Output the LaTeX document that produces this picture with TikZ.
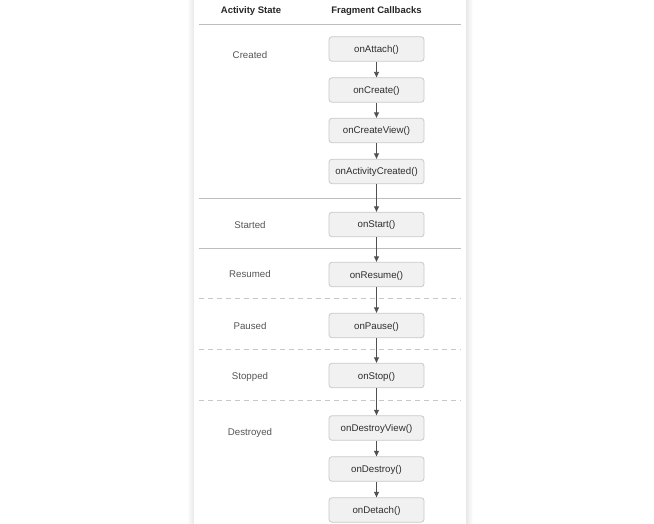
\documentclass[tikz,border=0pt]{standalone}
\usepackage{fontspec}
\setmainfont{Liberation Sans}
\usetikzlibrary{arrows.meta}
\definecolor{boxfill}{HTML}{F1F1F1}
\definecolor{boxline}{HTML}{C9C9C9}
\definecolor{ruleline}{HTML}{BDBDBD}
\definecolor{dashline}{HTML}{C8C8C8}
\definecolor{statetext}{HTML}{555555}
\definecolor{cbtext}{HTML}{2E2E2E}
\definecolor{arrowcol}{HTML}{505050}
\tikzset{
  cb/.style={draw=boxline, line width=0.8pt, fill=boxfill, rounded corners=3pt,
    minimum width=95pt, minimum height=24.5pt, inner sep=0pt,
    text height=7pt, text depth=0pt,
    font=\fontsize{9.7}{11}\selectfont, text=cbtext},
  statelabel/.style={font=\fontsize{9.7}{11}\selectfont, text=statetext, inner sep=0pt},
  headlabel/.style={font=\fontsize{9.5}{11}\selectfont\bfseries, text=black!85, inner sep=0pt},
  flow/.style={draw=arrowcol, line width=0.9pt, -{Triangle[length=5.5pt,width=5pt]}},
  solidrule/.style={draw=ruleline, line width=0.9pt},
  dashrule/.style={draw=dashline, line width=0.9pt, dash pattern=on 5pt off 4pt},
}
\begin{document}
\begin{tikzpicture}[x=1pt, y=-1pt]
  % canvas
  \useasboundingbox (0,0) rectangle (654,524);
  \fill[white] (0,0) rectangle (654,524);
  % panel edges with soft shadow
  \shade[left color=white, right color=black!9] (187,0) rectangle (194,524);
  \shade[left color=black!9, right color=white] (466,0) rectangle (473,524);
  \fill[white] (194,0) rectangle (466,524);

  % column headers
  \node[headlabel] (hstate) at (251,11) {Activity State};
  \node[headlabel] (hcb) at (376.5,11) {Fragment Callbacks};

  % separators
  \coordinate (r0l) at (199,24);  \coordinate (r0r) at (461,24);
  \coordinate (r1l) at (199,198); \coordinate (r1r) at (461,198);
  \coordinate (r2l) at (199,248); \coordinate (r2r) at (461,248);
  \coordinate (d1l) at (199,298); \coordinate (d1r) at (461,298);
  \coordinate (d2l) at (199,349); \coordinate (d2r) at (461,349);
  \coordinate (d3l) at (199,400); \coordinate (d3r) at (461,400);
  \draw[solidrule] (r0l) -- (r0r);
  \draw[solidrule] (r1l) -- (r1r);
  \draw[solidrule] (r2l) -- (r2r);
  \draw[dashrule] (d1l) -- (d1r);
  \draw[dashrule] (d2l) -- (d2r);
  \draw[dashrule] (d3l) -- (d3r);

  % activity states
  \node[statelabel] (sCreated)   at (250,55)  {Created};
  \node[statelabel] (sStarted)   at (250,225) {Started};
  \node[statelabel] (sResumed)   at (250,274.5) {Resumed};
  \node[statelabel] (sPaused)    at (250,326) {Paused};
  \node[statelabel] (sStopped)   at (250,377) {Stopped};
  \node[statelabel] (sDestroyed) at (250,433) {Destroyed};

  % fragment callbacks
  \node[cb] (attach)      at (376.5,49)    {onAttach()};
  \node[cb] (create)      at (376.5,90)    {onCreate()};
  \node[cb] (createview)  at (376.5,130.5) {onCreateView()};
  \node[cb] (actcreated)  at (376.5,171.5) {onActivityCreated()};
  \node[cb] (start)       at (376.5,224.5) {onStart()};
  \node[cb] (resume)      at (376.5,274.5) {onResume()};
  \node[cb] (pause)       at (376.5,325.5) {onPause()};
  \node[cb] (stop)        at (376.5,375.5) {onStop()};
  \node[cb] (destroyview) at (376.5,428)   {onDestroyView()};
  \node[cb] (destroy)     at (376.5,469)   {onDestroy()};
  \node[cb] (detach)      at (376.5,510)   {onDetach()};

  % call order
  \draw[flow] (attach.south) -- (create.north);
  \draw[flow] (create.south) -- (createview.north);
  \draw[flow] (createview.south) -- (actcreated.north);
  \draw[flow] (actcreated.south) -- (start.north);
  \draw[flow] (start.south) -- (resume.north);
  \draw[flow] (resume.south) -- (pause.north);
  \draw[flow] (pause.south) -- (stop.north);
  \draw[flow] (stop.south) -- (destroyview.north);
  \draw[flow] (destroyview.south) -- (destroy.north);
  \draw[flow] (destroy.south) -- (detach.north);
\end{tikzpicture}
\end{document}
